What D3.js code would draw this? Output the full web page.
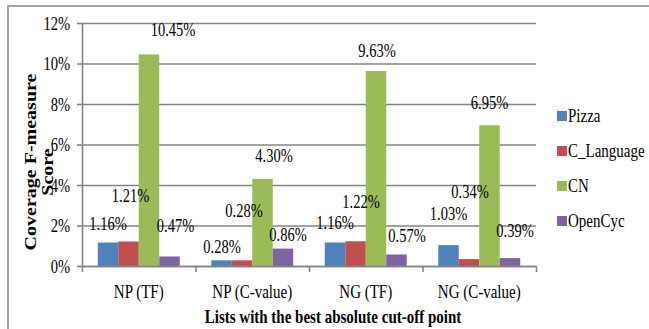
<!DOCTYPE html>
<html>
<head>
<meta charset="utf-8">
<script src="https://cdn.jsdelivr.net/npm/d3@7/dist/d3.min.js"></script>
<style>
  html, body { margin: 0; padding: 0; background: #fff; }
  svg { display: block; }
  text { font-family: "Liberation Serif", "Times New Roman", serif; fill: #000; }
</style>
</head>
<body>
<svg id="chart" width="649" height="329" font-family="Liberation Serif"></svg>
<script>
// Coverage F-measure per list type and ontology (percent)
const categories = ["NP (TF)", "NP (C-value)", "NG (TF)", "NG (C-value)"];
const seriesNames = ["Pizza", "C_Language", "CN", "OpenCyc"];
const pizza      = [1.16, 0.28, 1.16, 1.03];
const cLanguage  = [1.21, 0.28, 1.22, 0.34];
const cn         = [10.45, 4.30, 9.63, 6.95];
const openCyc    = [0.47, 0.86, 0.57, 0.39];
const yTicks     = [0, 2, 4, 6, 8, 10, 12];

// Hand placement of each value label relative to its bar top (px), per series
const labelNudge = [
  [[0, -19], [0.5, -14], [0, -19.5], [0, -31]],
  [[2, -46], [2, -50], [5.5, -39], [1, -67]],
  [[24, -25], [11.5, -23], [1, -20], [0, -22]],
  [[6, -31], [5, -14], [10.5, -18.5], [5, -27]]
];

const seriesValues = [pizza, cLanguage, cn, openCyc];
const colors = ["#4F81BD", "#C0504D", "#9BBB59", "#8064A2"];
const TS = 1.25; // vertical stretch of the serif lettering
const gridColor = "#848484";
const serif = "'Liberation Serif', 'Times New Roman', serif";

const svg = d3.select("#chart");

// outer frame
svg.append("rect")
  .attr("x", 8).attr("y", 6)
  .attr("width", 700).attr("height", 400)
  .attr("fill", "none").attr("stroke", "#a3a3a3").attr("stroke-width", 2);

const plot = { left: 82, right: 536, top: 23, bottom: 266 };

const y = d3.scaleLinear().domain([0, 12]).range([plot.bottom, plot.top]);
const x0 = d3.scaleBand().domain(categories).range([plot.left, plot.right]).padding(0);
const inset = x0.bandwidth() * 0.139;
const x1 = d3.scaleBand().domain(seriesNames).range([inset, x0.bandwidth() - inset]).padding(0);

// horizontal gridlines
const grid = svg.append("g")
  .attr("transform", `translate(${plot.left},0)`)
  .call(d3.axisLeft(y).tickValues(yTicks).tickSize(-(plot.right - plot.left)).tickFormat(""));
grid.select(".domain").remove();
grid.selectAll("line").attr("stroke", gridColor).attr("stroke-width", 1.6);

// y axis
const yAxis = svg.append("g")
  .attr("transform", `translate(${plot.left},0)`)
  .call(d3.axisLeft(y).tickValues(yTicks).tickSize(5).tickSizeOuter(0).tickFormat(d => d + "%"))
  .attr("font-family", serif);
yAxis.select(".domain").attr("stroke", gridColor).attr("stroke-width", 1.6);
yAxis.selectAll(".tick line").attr("stroke", gridColor).attr("stroke-width", 1.6);
yAxis.selectAll(".tick text")
  .attr("x", -12).attr("dy", "0.34em")
  .attr("transform", `scale(1,${TS})`)
  .style("font-size", "14.5px")
  .attr("fill", "#000");

// bars
const groups = svg.append("g").selectAll("g")
  .data(categories)
  .join("g")
  .attr("transform", d => `translate(${x0(d)},0)`);

groups.selectAll("rect")
  .data((d, i) => seriesNames.map((s, k) => ({ s, k, v: seriesValues[k][i] })))
  .join("rect")
  .attr("x", d => x1(d.s))
  .attr("y", d => y(d.v))
  .attr("width", x1.bandwidth())
  .attr("height", d => y(0) - y(d.v))
  .attr("fill", d => colors[d.k]);

// x axis baseline with boundary ticks
const xb = d3.scaleLinear().domain([0, categories.length]).range([plot.left, plot.right]);
const xAxisTicks = svg.append("g")
  .attr("transform", `translate(0,${plot.bottom})`)
  .call(d3.axisBottom(xb).tickValues(d3.range(categories.length + 1)).tickSize(6).tickSizeOuter(0).tickFormat(""));
xAxisTicks.select(".domain").attr("stroke", gridColor).attr("stroke-width", 1.6);
xAxisTicks.selectAll(".tick line").attr("stroke", gridColor).attr("stroke-width", 1.6);

// category labels
const xAxis = svg.append("g")
  .attr("transform", `translate(0,${plot.bottom})`)
  .call(d3.axisBottom(x0).tickSize(0))
  .attr("font-family", serif);
xAxis.select(".domain").remove();
xAxis.selectAll(".tick text")
  .attr("y", 0)
  .attr("transform", `translate(0,26) scale(1,${TS})`)
  .attr("dy", "0.34em")
  .style("font-size", "15px")
  .attr("fill", "#000");

// value labels
const labels = svg.append("g");
categories.forEach((c, i) => {
  seriesNames.forEach((s, k) => {
    const v = seriesValues[k][i];
    const [dx, dy] = labelNudge[k][i];
    const cx = x0(c) + x1(s) + x1.bandwidth() / 2 + dx;
    const cy = y(v) + dy;
    labels.append("text")
      .attr("transform", `translate(${cx},${cy}) scale(1,${TS})`)
      .attr("text-anchor", "middle")
      .attr("dy", "0.34em")
      .style("font-size", "14.5px")
      .text(v.toFixed(2) + "%");
  });
});

// legend
const legend = svg.append("g").attr("transform", "translate(557,116)");
seriesNames.forEach((s, k) => {
  const g = legend.append("g").attr("transform", `translate(0,${k * 35})`);
  g.append("rect").attr("x", 0).attr("y", -5).attr("width", 10).attr("height", 10).attr("fill", colors[k]);
  g.append("text")
    .attr("transform", `translate(11,0) scale(1,${TS})`)
    .attr("dy", "0.34em")
    .style("font-size", "15px")
    .text(s);
});

// axis titles
svg.append("text")
  .attr("transform", `translate(333,317) scale(1,${TS})`)
  .attr("text-anchor", "middle")
  .attr("dy", "0.34em")
  .style("font-size", "15px")
  .style("font-weight", "bold")
  .text("Lists with the best absolute cut-off point");

svg.append("text")
  .attr("transform", `translate(31,162) rotate(-90) scale(${TS},1)`)
  .attr("text-anchor", "middle")
  .attr("dy", "0.34em")
  .style("font-size", "16px")
  .style("font-weight", "bold")
  .text("Coverage F-measure");

svg.append("text")
  .attr("transform", `translate(48,172) rotate(-90) scale(${TS},1)`)
  .attr("text-anchor", "middle")
  .attr("dy", "0.34em")
  .style("font-size", "16px")
  .style("font-weight", "bold")
  .text("Score");
</script>
</body>
</html>
